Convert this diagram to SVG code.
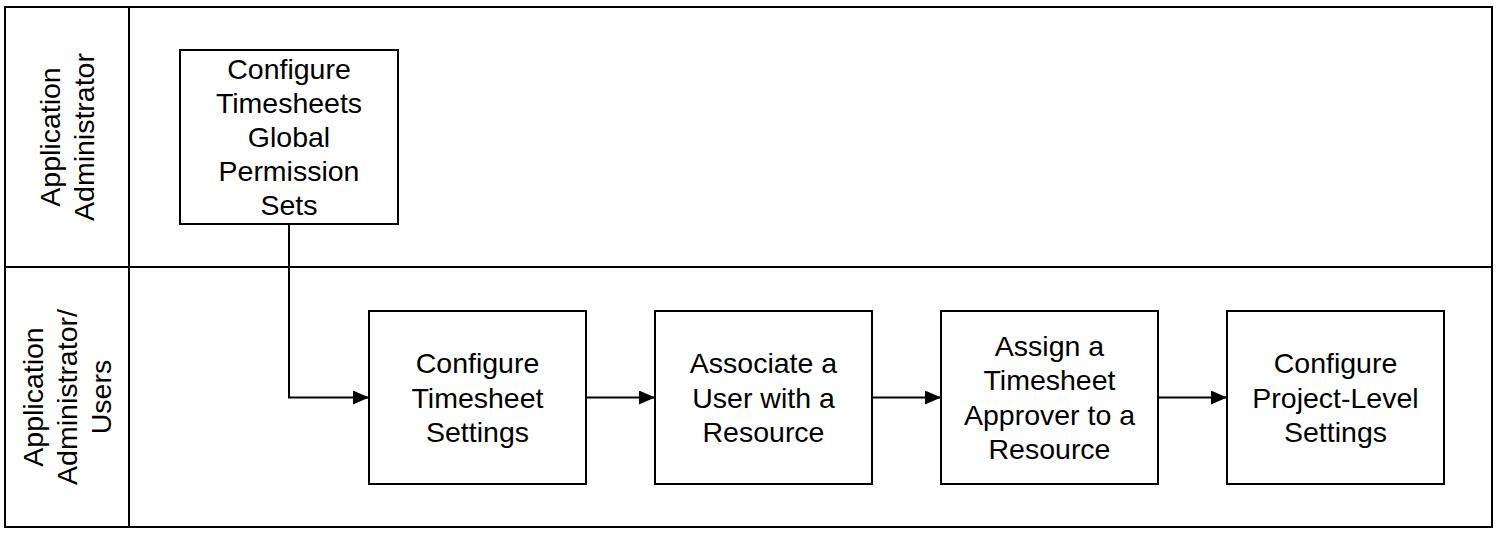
<svg xmlns="http://www.w3.org/2000/svg" width="1501" height="536" viewBox="0 0 1501 536">
<style>
.frame{fill:none;stroke:#000;stroke-width:2}
.box{fill:#fff;stroke:#000;stroke-width:2}
.t{font-family:"Liberation Sans",Arial,sans-serif;font-size:28.5px;fill:#000;text-anchor:middle}
.c{fill:none;stroke:#000;stroke-width:2}
</style>
<defs>
<marker id="ah" markerWidth="16" markerHeight="14" refX="16" refY="7" orientation="auto" markerUnits="userSpaceOnUse" orient="auto">
<path d="M0,0 L16,7 L0,14 Z" fill="#000"/>
</marker>
</defs>
<rect width="1501" height="536" fill="#fff"/>
<g id="pool">
<rect class="frame" x="5" y="7" width="1487" height="520"/>
<line class="frame" x1="129" y1="7" x2="129" y2="527"/>
<line class="frame" x1="5" y1="267" x2="1492" y2="267"/>
</g>
<g id="lane1">
<text class="t" transform="translate(67,137) rotate(-90)"><tspan x="0" y="-6.9">Application</tspan><tspan x="0" y="27.3">Administrator</tspan></text>
</g>
<g id="lane2">
<text class="t" transform="translate(67,397) rotate(-90)"><tspan x="0" y="-24">Application</tspan><tspan x="0" y="10.2">Administrator/</tspan><tspan x="0" y="44.4">Users</tspan></text>
</g>
<g id="connectors">
<path class="c" d="M289,224 V397.5 H369" marker-end="url(#ah)"/>
<path class="c" d="M586,397.5 H655" marker-end="url(#ah)"/>
<path class="c" d="M872,397.5 H941" marker-end="url(#ah)"/>
<path class="c" d="M1158,397.5 H1227" marker-end="url(#ah)"/>
</g>
<g id="n1">
<rect class="box" x="180" y="50" width="218" height="174"/>
<text class="t"><tspan x="289" y="78.6">Configure</tspan><tspan x="289" y="112.8">Timesheets</tspan><tspan x="289" y="147">Global</tspan><tspan x="289" y="181.2">Permission</tspan><tspan x="289" y="215.4">Sets</tspan></text>
</g>
<g id="n2">
<rect class="box" x="369" y="311" width="217" height="173"/>
<text class="t"><tspan x="477.5" y="373.3">Configure</tspan><tspan x="477.5" y="407.5">Timesheet</tspan><tspan x="477.5" y="441.7">Settings</tspan></text>
</g>
<g id="n3">
<rect class="box" x="655" y="311" width="217" height="173"/>
<text class="t"><tspan x="763.5" y="373.3">Associate a</tspan><tspan x="763.5" y="407.5">User with a</tspan><tspan x="763.5" y="441.7">Resource</tspan></text>
</g>
<g id="n4">
<rect class="box" x="941" y="311" width="217" height="173"/>
<text class="t"><tspan x="1049.5" y="356.2">Assign a</tspan><tspan x="1049.5" y="390.4">Timesheet</tspan><tspan x="1049.5" y="424.6">Approver to a</tspan><tspan x="1049.5" y="458.8">Resource</tspan></text>
</g>
<g id="n5">
<rect class="box" x="1227" y="311" width="217" height="173"/>
<text class="t"><tspan x="1335.5" y="373.3">Configure</tspan><tspan x="1335.5" y="407.5">Project-Level</tspan><tspan x="1335.5" y="441.7">Settings</tspan></text>
</g>
</svg>
